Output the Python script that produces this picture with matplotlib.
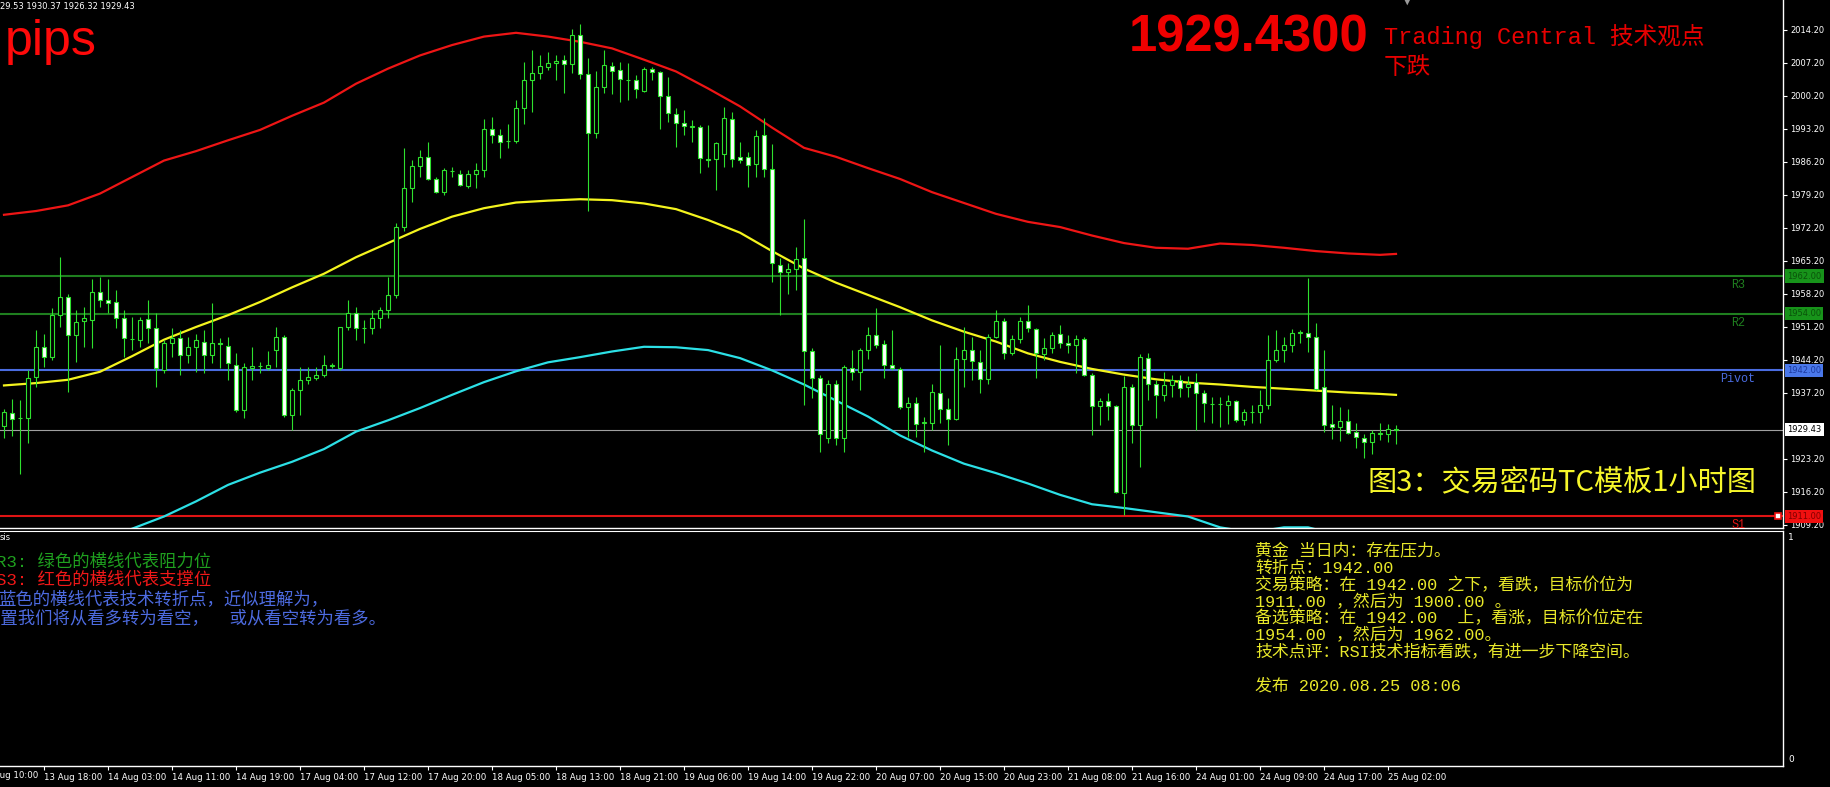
import matplotlib
matplotlib.use("Agg")
import matplotlib.pyplot as plt
import matplotlib.transforms as mtransforms
import numpy as np

# ---- candles (hourly XAUUSD), bar 0 = leftmost visible bar
opens = [1930.1, 1932.9, 1931.8, 1931.8, 1940.6, 1947.0, 1944.9, 1953.7, 1957.6, 1949.5,
         1952.5, 1952.7, 1958.7, 1957.0, 1956.5, 1953.0, 1948.7, 1948.4, 1952.8, 1950.9,
         1942.1, 1947.7, 1948.8, 1945.3, 1947.0, 1948.1, 1945.3, 1947.7, 1947.2, 1943.1,
         1933.6, 1942.5, 1942.9, 1942.4, 1946.3, 1949.1, 1932.5, 1937.8, 1940.0, 1940.4,
         1941.0, 1943.0, 1942.4, 1951.3, 1954.1, 1951.0, 1950.9, 1953.2, 1954.8, 1958.0,
         1972.5, 1980.6, 1985.4, 1987.2, 1982.6, 1979.9, 1984.2, 1983.6, 1981.1, 1983.6,
         1984.5, 1993.1, 1991.9, 1990.7, 1990.7, 1997.6, 2003.6, 2005.0, 2006.4, 2007.1,
         2007.8, 2006.9, 2013.1, 2004.9, 1992.3, 2002.0, 2006.6, 2005.7, 2003.6, 2003.6,
         2001.3, 2005.9, 2005.2, 2000.1, 1996.3, 1994.5, 1993.7, 1993.6, 1986.8, 1986.8,
         1987.9, 1995.3, 1987.3, 1987.3, 1985.8, 1991.9, 1984.8, 1964.3, 1962.9, 1963.6,
         1965.8, 1946.0, 1940.3, 1927.6, 1939.2, 1927.6, 1942.6, 1941.7, 1946.3, 1949.5,
         1947.6, 1943.1, 1942.2, 1934.3, 1935.0, 1930.9, 1930.8, 1937.3, 1933.9, 1931.6,
         1944.5, 1946.4, 1943.8, 1940.1, 1949.1, 1952.5, 1945.7, 1948.6, 1952.5, 1950.7,
         1945.5, 1946.7, 1949.7, 1947.7, 1947.4, 1948.6, 1941.0, 1934.4, 1935.4, 1934.4,
         1915.9, 1938.5, 1930.4, 1944.6, 1939.2, 1936.8, 1938.9, 1940.0, 1938.4, 1939.6,
         1937.1, 1934.9, 1934.8, 1934.7, 1935.4, 1931.5, 1933.2, 1933.1, 1934.6, 1944.3,
         1946.3, 1947.4, 1950.0, 1949.9, 1949.0, 1938.4, 1930.6, 1930.0, 1931.3, 1929.0,
         1927.6, 1926.9, 1928.6, 1928.6, 1929.53]
highs = [1933.9, 1936.0, 1935.7, 1942.1, 1950.6, 1949.8, 1955.2, 1966.1, 1958.3, 1954.8,
         1955.5, 1961.3, 1961.9, 1961.3, 1959.0, 1954.8, 1953.4, 1953.4, 1957.0, 1954.1,
         1948.4, 1950.9, 1950.6, 1949.1, 1949.8, 1950.6, 1956.2, 1948.8, 1949.1, 1945.6,
         1943.5, 1947.0, 1943.8, 1946.0, 1951.3, 1949.5, 1938.2, 1942.8, 1942.8, 1942.8,
         1945.2, 1943.5, 1951.3, 1956.9, 1955.5, 1952.7, 1954.8, 1955.5, 1961.9, 1973.2,
         1989.1, 1986.6, 1988.7, 1990.5, 1983.1, 1984.9, 1985.2, 1984.5, 1984.5, 1985.9,
         1995.4, 1995.8, 1993.3, 1994.3, 1999.3, 2007.5, 2009.9, 2008.9, 2009.6, 2008.9,
         2008.9, 2014.5, 2015.5, 2008.2, 2005.4, 2009.9, 2007.5, 2007.5, 2007.1, 2004.6,
         2006.4, 2006.4, 2005.4, 2004.3, 1997.6, 1997.2, 1995.1, 1994.0, 1994.0, 1990.5,
         1997.8, 1996.9, 1990.5, 1988.4, 1993.0, 1995.5, 1990.0, 1965.8, 1964.7, 1968.1,
         1974.2, 1946.7, 1941.0, 1939.9, 1939.9, 1943.1, 1946.3, 1946.7, 1951.3, 1955.2,
         1948.4, 1950.6, 1942.8, 1936.4, 1936.4, 1932.2, 1939.2, 1947.4, 1936.1, 1947.0,
         1951.3, 1949.1, 1946.3, 1949.8, 1954.8, 1953.0, 1949.5, 1953.4, 1955.9, 1950.9,
         1948.8, 1950.2, 1951.6, 1949.5, 1949.5, 1949.0, 1941.4, 1936.1, 1937.1, 1934.6,
         1940.7, 1939.2, 1945.5, 1945.6, 1939.9, 1941.7, 1941.0, 1941.0, 1940.7, 1941.4,
         1937.8, 1936.4, 1936.4, 1936.8, 1935.7, 1933.9, 1934.6, 1937.8, 1949.5, 1950.6,
         1949.0, 1950.7, 1950.6, 1961.5, 1952.0, 1946.3, 1934.6, 1934.3, 1933.7, 1930.8,
         1928.6, 1929.4, 1930.9, 1930.6, 1930.37]
lows = [1927.6, 1928.0, 1920.1, 1926.5, 1938.5, 1942.8, 1944.2, 1951.3, 1937.5, 1943.8,
        1947.0, 1946.7, 1955.5, 1954.1, 1950.9, 1944.9, 1946.3, 1947.0, 1947.7, 1938.5,
        1941.4, 1944.9, 1941.0, 1943.5, 1941.7, 1941.4, 1943.5, 1942.4, 1940.0, 1933.2,
        1931.8, 1940.0, 1941.4, 1942.1, 1942.8, 1932.2, 1929.3, 1932.5, 1939.2, 1940.0,
        1940.6, 1942.4, 1942.1, 1950.6, 1948.4, 1947.7, 1949.8, 1950.9, 1953.0, 1957.3,
        1971.5, 1977.8, 1983.1, 1982.4, 1979.6, 1979.2, 1983.1, 1981.0, 1980.6, 1980.6,
        1983.1, 1990.2, 1987.0, 1989.1, 1990.2, 1994.3, 1996.9, 2003.9, 2005.7, 2003.6,
        2000.8, 2005.0, 2003.9, 1975.7, 1991.2, 2000.8, 2000.6, 1999.0, 1999.3, 1999.7,
        2001.1, 2003.6, 1993.3, 1994.7, 1989.4, 1991.9, 1990.5, 1983.8, 1985.2, 1980.2,
        1985.2, 1985.2, 1985.9, 1980.9, 1983.1, 1983.1, 1960.8, 1953.7, 1958.3, 1959.0,
        1934.6, 1936.1, 1924.7, 1926.5, 1926.2, 1924.7, 1939.9, 1937.8, 1944.5, 1946.7,
        1940.3, 1942.1, 1933.9, 1927.9, 1927.9, 1924.7, 1929.3, 1930.8, 1926.2, 1931.5,
        1938.5, 1939.9, 1937.1, 1939.2, 1948.8, 1944.5, 1945.3, 1947.7, 1950.2, 1940.3,
        1944.2, 1945.6, 1946.7, 1945.6, 1941.4, 1940.7, 1928.3, 1930.4, 1931.5, 1915.9,
        1911.3, 1926.5, 1921.6, 1935.7, 1931.8, 1935.4, 1936.4, 1936.4, 1936.4, 1929.3,
        1931.1, 1930.9, 1930.0, 1930.7, 1931.1, 1930.4, 1930.8, 1930.8, 1933.9, 1943.8,
        1943.8, 1945.9, 1947.7, 1945.9, 1937.9, 1929.0, 1927.4, 1927.1, 1928.5, 1925.5,
        1923.5, 1924.2, 1927.2, 1926.7, 1926.32]
closes = [1933.2, 1931.6, 1931.9, 1940.4, 1947.0, 1944.9, 1953.7, 1957.6, 1949.5, 1952.3,
          1953.0, 1958.7, 1956.9, 1956.3, 1953.0, 1948.8, 1948.6, 1952.7, 1950.9, 1942.4,
          1947.7, 1948.8, 1945.3, 1947.0, 1948.4, 1945.3, 1947.9, 1947.6, 1943.5, 1933.6,
          1942.8, 1943.0, 1942.9, 1943.1, 1949.1, 1932.5, 1937.8, 1940.0, 1940.6, 1941.0,
          1943.1, 1943.1, 1951.3, 1954.1, 1950.9, 1950.9, 1953.2, 1954.9, 1958.0, 1972.5,
          1980.6, 1985.4, 1987.2, 1982.6, 1979.9, 1984.4, 1984.3, 1981.3, 1983.6, 1984.5,
          1993.3, 1991.9, 1990.5, 1990.7, 1997.6, 2003.6, 2005.0, 2006.6, 2007.1, 2007.6,
          2006.9, 2013.1, 2004.9, 1992.3, 2002.0, 2006.8, 2005.6, 2003.7, 2003.6, 2001.6,
          2005.9, 2005.2, 2000.1, 1996.5, 1994.5, 1993.8, 1993.7, 1987.0, 1986.7, 1990.2,
          1995.5, 1986.8, 1986.6, 1985.6, 1991.7, 1984.8, 1964.7, 1962.9, 1963.6, 1965.6,
          1946.0, 1940.3, 1928.6, 1939.2, 1927.6, 1942.8, 1941.7, 1946.3, 1949.5, 1947.4,
          1943.1, 1942.4, 1934.3, 1935.0, 1930.7, 1930.9, 1937.5, 1933.9, 1931.6, 1944.5,
          1946.3, 1944.0, 1940.1, 1949.1, 1952.5, 1945.7, 1948.6, 1952.5, 1950.9, 1945.6,
          1946.7, 1949.5, 1947.7, 1947.4, 1948.6, 1941.0, 1934.4, 1935.4, 1934.4, 1916.3,
          1938.5, 1930.4, 1944.8, 1939.2, 1936.8, 1938.9, 1940.0, 1938.2, 1939.1, 1937.1,
          1935.0, 1934.8, 1934.8, 1935.4, 1931.5, 1933.1, 1933.2, 1934.6, 1944.3, 1946.3,
          1947.4, 1949.9, 1950.0, 1949.0, 1938.0, 1930.4, 1930.0, 1931.3, 1928.8, 1927.8,
          1926.9, 1928.8, 1928.6, 1929.5, 1929.43]

# ---- indicator lines (upper band / middle MA / lower band)
band_x = [0, 4, 8, 12, 16, 20, 24, 28, 32, 36, 40, 44, 48, 52, 56, 60, 64, 68, 72, 76, 80, 84,
          88, 92, 96, 100, 104, 108, 112, 116, 120, 124, 128, 132, 136, 140, 144, 148, 152,
          156, 160, 164, 168, 172, 174]
upper = [1975.0, 1975.8, 1977.0, 1979.5, 1983.0, 1986.5, 1988.5, 1990.8, 1993.0, 1996.0,
         1998.8, 2002.8, 2006.0, 2008.8, 2011.0, 2012.8, 2013.6, 2012.8, 2011.7, 2010.3,
         2007.9, 2005.4, 2001.8, 1998.0, 1993.5, 1989.2, 1987.3, 1984.9, 1982.6, 1979.8,
         1977.5, 1975.2, 1973.5, 1972.4, 1970.6, 1969.0, 1968.0, 1967.8, 1968.9, 1968.6,
         1968.0, 1967.3, 1966.8, 1966.5, 1966.7]
middle = [1938.8, 1939.3, 1940.0, 1941.7, 1945.0, 1948.5, 1951.2, 1953.7, 1956.5, 1959.6,
          1962.5, 1966.0, 1969.0, 1972.0, 1974.6, 1976.4, 1977.6, 1978.0, 1978.3, 1978.1,
          1977.4, 1976.2, 1973.9, 1971.2, 1967.3, 1963.6, 1960.6, 1958.0, 1955.4, 1952.6,
          1950.2, 1948.1, 1945.6, 1943.8, 1942.3, 1941.1, 1940.1, 1939.4, 1939.0, 1938.5,
          1938.1, 1937.7, 1937.3, 1937.0, 1936.8]
lower_x = [0, 4, 8, 12, 16, 20, 24, 28, 32, 36, 40, 44, 48, 52, 56, 60, 64, 68, 72, 76, 80, 84,
           88, 92, 96, 100, 104, 108, 112, 116, 120, 124, 128, 132, 136, 140, 144, 148, 152,
           156, 160, 163, 166, 170, 174]
lower = [1899.5, 1901.5, 1903.8, 1906.0, 1908.4, 1911.0, 1914.2, 1917.7, 1920.3, 1922.6,
         1925.3, 1929.0, 1931.4, 1934.0, 1936.8, 1939.5, 1941.8, 1943.7, 1944.8, 1946.0,
         1947.0, 1946.9, 1946.3, 1944.6, 1942.0, 1939.0, 1935.6, 1932.2, 1928.2, 1925.0,
         1922.2, 1920.2, 1918.0, 1915.6, 1913.6, 1912.8, 1911.9, 1911.0, 1908.7, 1907.6,
         1908.7, 1908.7, 1907.4, 1907.0, 1907.0]

# ---- levels
level_names = ["R3", "R2", "Pivot", "S1"]
level_values = [1962.00, 1954.00, 1942.00, 1911.00]
level_colors = ["#1f7f1f", "#1f7f1f", "#4a6ce0", "#e01414"]
last_price = 1929.43

price_ticks = [2014.2, 2007.2, 2000.2, 1993.2, 1986.2, 1979.2, 1972.2, 1965.2, 1958.2,
               1951.2, 1944.2, 1937.2, 1923.2, 1916.2, 1909.2]
time_bars = [5, 13, 21, 29, 37, 45, 53, 61, 69, 77, 85, 93, 101, 109, 117, 125, 133,
             141, 149, 157, 165, 173]
time_labels = ["13 Aug 18:00", "14 Aug 03:00", "14 Aug 11:00", "14 Aug 19:00",
               "17 Aug 04:00", "17 Aug 12:00", "17 Aug 20:00", "18 Aug 05:00",
               "18 Aug 13:00", "18 Aug 21:00", "19 Aug 06:00", "19 Aug 14:00",
               "19 Aug 22:00", "20 Aug 07:00", "20 Aug 15:00", "20 Aug 23:00",
               "21 Aug 08:00", "21 Aug 16:00", "24 Aug 01:00", "24 Aug 09:00",
               "24 Aug 17:00", "25 Aug 02:00"]

left_notes = ["R3: 绿色的横线代表阻力位", "S3: 红色的横线代表支撑位",
              "蓝色的横线代表技术转折点，近似理解为，",
              "位置我们将从看多转为看空，  或从看空转为看多。"]
right_notes = ["黄金 当日内：存在压力。",
               "转折点：1942.00",
               "交易策略：在 1942.00 之下，看跌，目标价位为",
               "1911.00 ，然后为 1900.00 。",
               "备选策略：在 1942.00  上，看涨，目标价位定在",
               "1954.00 ，然后为 1962.00。",
               "技术点评：RSI技术指标看跌，有进一步下降空间。",
               "",
               "发布 2020.08.25 08:06"]

W, H = 1830, 787
GREEN = "#2ee02e"
CJK = ["Liberation Mono", "Noto Sans CJK SC"]


def fx(px):
    return px / W


def fy(py):
    return 1 - py / H


fig = plt.figure(figsize=(W / 100, H / 100), dpi=100, facecolor="black")
ax = fig.add_axes([0, fy(528), fx(1783), 528 / H], facecolor="black")
sub = fig.add_axes([0, fy(766), fx(1783), (766 - 531) / H], facecolor="black")

o = np.array(opens)
h = np.array(highs)
l = np.array(lows)
c = np.array(closes)
idx = np.arange(len(o))
bear = c < o

# level lines
for v, col in zip(level_values, level_colors):
    ax.axhline(v, color=col, lw=1.5, zorder=1)
ax.axhline(last_price, color="#a0a0a0", lw=0.8, zorder=1)

ax.plot(band_x, upper, color="#ee1515", lw=1.6, zorder=2)
ax.plot(band_x, middle, color="#f4f41e", lw=1.6, zorder=2)
ax.plot(lower_x, lower, color="#2ce0e6", lw=1.6, zorder=2)

ax.vlines(idx, l, h, color=GREEN, lw=0.8, zorder=3)
ax.bar(idx, np.maximum(np.abs(c - o), 0.05), bottom=np.minimum(o, c), width=0.6,
       color=np.where(bear, "white", "black"), edgecolor=GREEN, linewidth=0.8, zorder=4)

ax.set_xlim(-0.5, 222.375)
ax.set_ylim(1908.56, 2020.56)
sub.set_xlim(-0.5, 222.375)
sub.set_ylim(0, 1)

for a in (ax, sub):
    for s in ("left", "top"):
        a.spines[s].set_visible(False)
    for s in ("right", "bottom"):
        a.spines[s].set_color("white")
        a.spines[s].set_linewidth(1)
sub.spines["top"].set_visible(True)
sub.spines["top"].set_color("white")

ax.set_xticks([])
ax.yaxis.tick_right()
ax.set_yticks(price_ticks, [f"{t:.2f}" for t in price_ticks])
ax.tick_params(axis="y", colors="white", labelsize=6, length=3, pad=2)

sub.set_yticks([])
sub.set_xticks(time_bars, time_labels)
sub.tick_params(axis="x", colors="white", labelsize=6.2, length=3, pad=2)
for t in sub.get_xticklabels():
    t.set_ha("left")
sub.text(-3, fy(775), "13 Aug 10:00", color="white", fontsize=6.2, ha="left", va="center",
         transform=mtransforms.blended_transform_factory(sub.transData, fig.transFigure))

# level labels and price boxes
blend = mtransforms.blended_transform_factory(ax.transAxes, ax.transData)
for name, v, col in zip(level_names, level_values, level_colors):
    ax.annotate(name, xy=(0.9748, v), xycoords=blend, xytext=(0, -2),
                textcoords="offset points", ha="center", va="top", color=col,
                fontsize=8.5, family="Liberation Mono", annotation_clip=False)
box_fill = ["#17931a", "#17931a", "#4a78ea", "#f01010"]
box_text = ["#0a520a", "#0a520a", "#1c3aa0", "#800000"]
for v, fc, tc in zip(level_values, box_fill, box_text):
    ax.annotate(f"{v:.2f}", xy=(1.0, v), xycoords=blend, xytext=(3, 0),
                textcoords="offset points", ha="left", va="center", color=tc, fontsize=6,
                annotation_clip=False,
                bbox=dict(boxstyle="square,pad=0.25", fc=fc, ec="none"))
ax.annotate(f"{last_price:.2f}", xy=(1.0, last_price), xycoords=blend, xytext=(3, 0),
            textcoords="offset points", ha="left", va="center", color="black", fontsize=6,
            annotation_clip=False,
            bbox=dict(boxstyle="square,pad=0.25", fc="white", ec="none"))
ax.plot([221.75], [level_values[3]], marker="s", ms=4, mfc="white", mec="#f01010",
        mew=1.2, clip_on=False, zorder=6)

# top texts
fig.text(fx(0), fy(6.5), "29.53 1930.37 1926.32 1929.43", color="white", fontsize=6,
         ha="left", va="center")
fig.text(fx(5), fy(55), "pips", color="#ff0a0a", fontsize=36, family="Liberation Sans",
         ha="left", va="baseline")
fig.text(fx(1249), fy(38), "1929.4300", color="#f00000", fontsize=36.5, weight="bold",
         family="Liberation Sans", ha="center", va="center")
fig.text(fx(1384), fy(36), "Trading Central 技术观点", color="#e80000", fontsize=17,
         family=CJK, ha="left", va="center")
fig.text(fx(1384), fy(68), "下跌", color="#e80000", fontsize=17, family=CJK,
         ha="left", va="center")
fig.text(fx(1407), fy(1), "▼", color="#9a9a9a", fontsize=8, ha="center", va="center")
fig.text(fx(1368), fy(483), "图3：交易密码TC模板1小时图", color="#f6f62a", fontsize=21,
         family=["Noto Sans CJK SC", "DejaVu Sans"], ha="left", va="center")

# sub window texts
fig.text(fx(0), fy(537), "sis", color="white", fontsize=6, ha="left", va="center")
fig.text(fx(1788), fy(537), "1", color="white", fontsize=6.5, ha="left", va="center")
fig.text(fx(1788), fy(759), "0", color="white", fontsize=6.5, ha="left", va="center")
left_colors = ["#1fa01f", "#f01818", "#4d6be0", "#4d6be0"]
left_x = [-4, -4, -2, -17]
left_y = [561.7, 580.0, 599.0, 617.5]
for txt, col, x0, y0 in zip(left_notes, left_colors, left_x, left_y):
    fig.text(fx(x0), fy(y0), txt, color=col, fontsize=12.5, family=CJK, ha="left",
             va="center")
for i, txt in enumerate(right_notes):
    if txt:
        fig.text(fx(1255), fy(551.7 + 16.7 * i), txt, color="#e8e82a", fontsize=12.2,
                 family=CJK, ha="left", va="center")

fig.savefig("out.png", dpi=100, facecolor="black")
